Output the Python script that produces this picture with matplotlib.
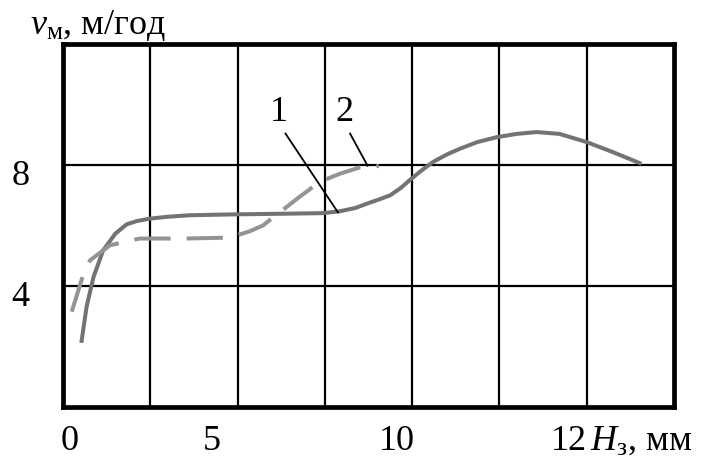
import matplotlib
matplotlib.use("Agg")
import matplotlib.pyplot as plt
import matplotlib.transforms as mtransforms

plt.rcParams['font.family'] = ['Liberation Serif', 'DejaVu Serif']
plt.rcParams['mathtext.fontset'] = 'custom'
plt.rcParams['mathtext.rm'] = 'Liberation Serif'
plt.rcParams['mathtext.it'] = 'Liberation Serif:italic'

# x is in grid cells (the drawing's own uneven scale), y in м/год
curve1_x = [0.21, 0.27, 0.35, 0.46, 0.60, 0.73, 0.85, 1.00, 1.20, 1.45, 1.99, 2.52, 2.98, 3.17,
            3.35, 3.48, 3.62, 3.75, 3.87, 3.97, 4.10, 4.24, 4.40, 4.55, 4.75, 4.97, 5.20,
            5.43, 5.69, 6.00, 6.30, 6.63]
curve1_y = [2.12, 3.31, 4.30, 5.18, 5.73, 6.04, 6.15, 6.23, 6.29, 6.34, 6.37, 6.39, 6.41, 6.47,
            6.58, 6.72, 6.86, 7.00, 7.24, 7.49, 7.80, 8.10, 8.35, 8.54, 8.76, 8.92, 9.03,
            9.09, 9.03, 8.76, 8.43, 8.04]
curve2_x = [0.10, 0.23, 0.31, 0.54, 0.88, 1.38, 1.91, 2.14, 2.29, 2.49, 2.68, 2.94, 3.17, 3.40, 3.62]
curve2_y = [3.15, 4.36, 4.85, 5.35, 5.57, 5.57, 5.60, 5.81, 6.00, 6.45, 6.88, 7.44, 7.71, 7.92, 7.97]

xtick_pos = [0.08, 1.71, 3.83, 5.80]
xtick_labels = ['0', '5', '10', '12']
ytick_vals = [4, 8]
grid_x = [1, 2, 3, 4, 5, 6]

fig = plt.figure(figsize=(7.07, 4.59), dpi=100)
ax = fig.add_axes([0.0891, 0.1133, 0.8639, 0.7907])

ax.plot(curve1_x, curve1_y, color='#737373', lw=2.9, solid_capstyle='butt',
        solid_joinstyle='round', zorder=3)
ax.plot(curve2_x, curve2_y, color='#949494', lw=2.9, dashes=(9, 4), zorder=3)

# leader lines and curve numbers
ax.plot([2.55, 3.15], [9.04, 6.44], color='black', lw=1.3, zorder=4)
ax.plot([3.29, 3.49], [9.04, 7.98], color='black', lw=1.3, zorder=4)
ax.text(2.47, 9.73, '1', fontsize=26, ha='center', va='center')
ax.text(3.23, 9.73, '2', fontsize=26, ha='center', va='center')

ax.set_xlim(0, 7)
ax.set_ylim(0, 12)

for v in grid_x:
    ax.axvline(v, color='black', lw=1.6, zorder=1)
for v in ytick_vals:
    ax.axhline(v, color='black', lw=1.6, zorder=1)

ax.set_xticks(xtick_pos, xtick_labels)
ax.set_yticks(ytick_vals, [str(v) for v in ytick_vals])
ax.tick_params(axis='both', length=0, labelsize=26)
ax.tick_params(axis='x', pad=13)
ax.tick_params(axis='y', pad=24)
shift = mtransforms.ScaledTranslation(0, -7 / 100, fig.dpi_scale_trans)
for lab in ax.get_yticklabels():
    lab.set_transform(lab.get_transform() + shift)

for sp in ax.spines.values():
    sp.set_linewidth(3.4)

fig.text(30 / 707, 1 - 34 / 459, r'$v_{\mathrm{м}}$, м/год', fontsize=26, ha='left', va='baseline')
ax.text(6.04, 0.0, r'$H_{\mathrm{з}}$, мм', fontsize=26, ha='left', va='top',
        transform=ax.transData + mtransforms.ScaledTranslation(0, -13 / 72, fig.dpi_scale_trans))

fig.savefig('out.png', dpi=100)
